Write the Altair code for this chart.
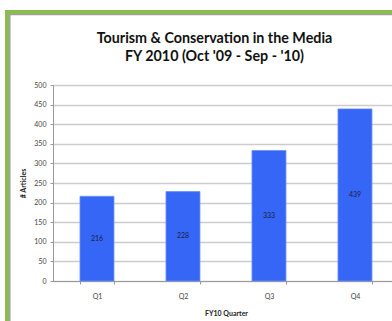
import altair as alt
import pandas as pd

quarters = ["Q1", "Q2", "Q3", "Q4"]
articles = [216, 228, 333, 439]
y_ticks = [0, 50, 100, 150, 200, 250, 300, 350, 400, 450, 500]

df = pd.DataFrame({"quarter": quarters, "articles": articles})

FONT = "Lato"
W, H = 339, 196

x_scale = alt.Scale(paddingInner=0.6047, paddingOuter=0.2733, align=0.574)
y_scale = alt.Scale(domain=[0, 500])

x_axis = alt.Axis(
    title="FY10 Quarter",
    labelAngle=0,
    tickBand="extent",
    tickSize=3,
    tickColor="#999999",
    domainColor="#999999",
    labelFont=FONT,
    labelFontSize=7,
    labelColor="#444444",
    labelPadding=8,
    titleFont=FONT,
    titleFontSize=7,
    titleFontWeight="bold",
    titleColor="#222222",
    titlePadding=10,
    titleX=173,
    grid=False,
)

y_axis = alt.Axis(
    title="# Articles",
    values=y_ticks,
    tickSize=3,
    tickColor="#999999",
    domainColor="#999999",
    gridColor="#cccccc",
    gridWidth=1.5,
    labelFont=FONT,
    labelFontSize=7,
    labelColor="#444444",
    labelPadding=4,
    labelOverlap=False,
    titleFont=FONT,
    titleFontSize=7,
    titleFontWeight="bold",
    titleColor="#222222",
    titlePadding=7,
)

bars = alt.Chart(df).mark_bar(color="#3566f5", stroke="#6b8ef8", strokeWidth=0.8).encode(
    x=alt.X("quarter:N", scale=x_scale, sort=quarters, axis=x_axis),
    y=alt.Y("articles:Q", scale=y_scale, axis=y_axis),
)

labels = alt.Chart(df).mark_text(
    font=FONT, fontSize=7, color="#1a1f4a", baseline="middle"
).transform_calculate(mid="datum.articles / 2").encode(
    x=alt.X("quarter:N", sort=quarters, scale=x_scale, axis=x_axis),
    y=alt.Y("mid:Q", scale=y_scale, axis=y_axis),
    text="articles:Q",
)

one = alt.Data(values=[{"a": 1}])
green = "#8cbb4f"
frame_left = alt.Chart(one).mark_rule(color=green, strokeWidth=4).encode(
    x=alt.value(-46), y=alt.value(-75), y2=alt.value(240)
)
frame_top = alt.Chart(one).mark_rule(color=green, strokeWidth=4).encode(
    y=alt.value(-73), x=alt.value(-48), x2=alt.value(345)
)
shade_left = alt.Chart(one).mark_rule(color="#a0a0a0", strokeWidth=1.5).encode(
    x=alt.value(-43.2), y=alt.value(-71), y2=alt.value(240)
)
shade_top = alt.Chart(one).mark_rule(color="#a0a0a0", strokeWidth=1.2).encode(
    y=alt.value(-70.4), x=alt.value(-44), x2=alt.value(345)
)

chart = (
    alt.layer(bars, labels, shade_left, shade_top, frame_left, frame_top)
    .properties(
        width=W,
        height=H,
        autosize=alt.AutoSizeParams(type="none"),
        padding={"left": 53, "top": 85, "right": 0, "bottom": 40},
        background="white",
        title=alt.TitleParams(
            text=["Tourism & Conservation in the Media", "FY 2010 (Oct '09 - Sep - '10)"],
            font=FONT,
            fontSize=14.3,
            fontWeight="bold",
            color="#111111",
            lineHeight=17.5,
            offset=0,
            dy=56,
            dx=-8,
            anchor="middle",
        ),
    )
    .configure_view(stroke=None)
)

chart.save("out.html", embed_options={"renderer": "svg", "actions": False})
